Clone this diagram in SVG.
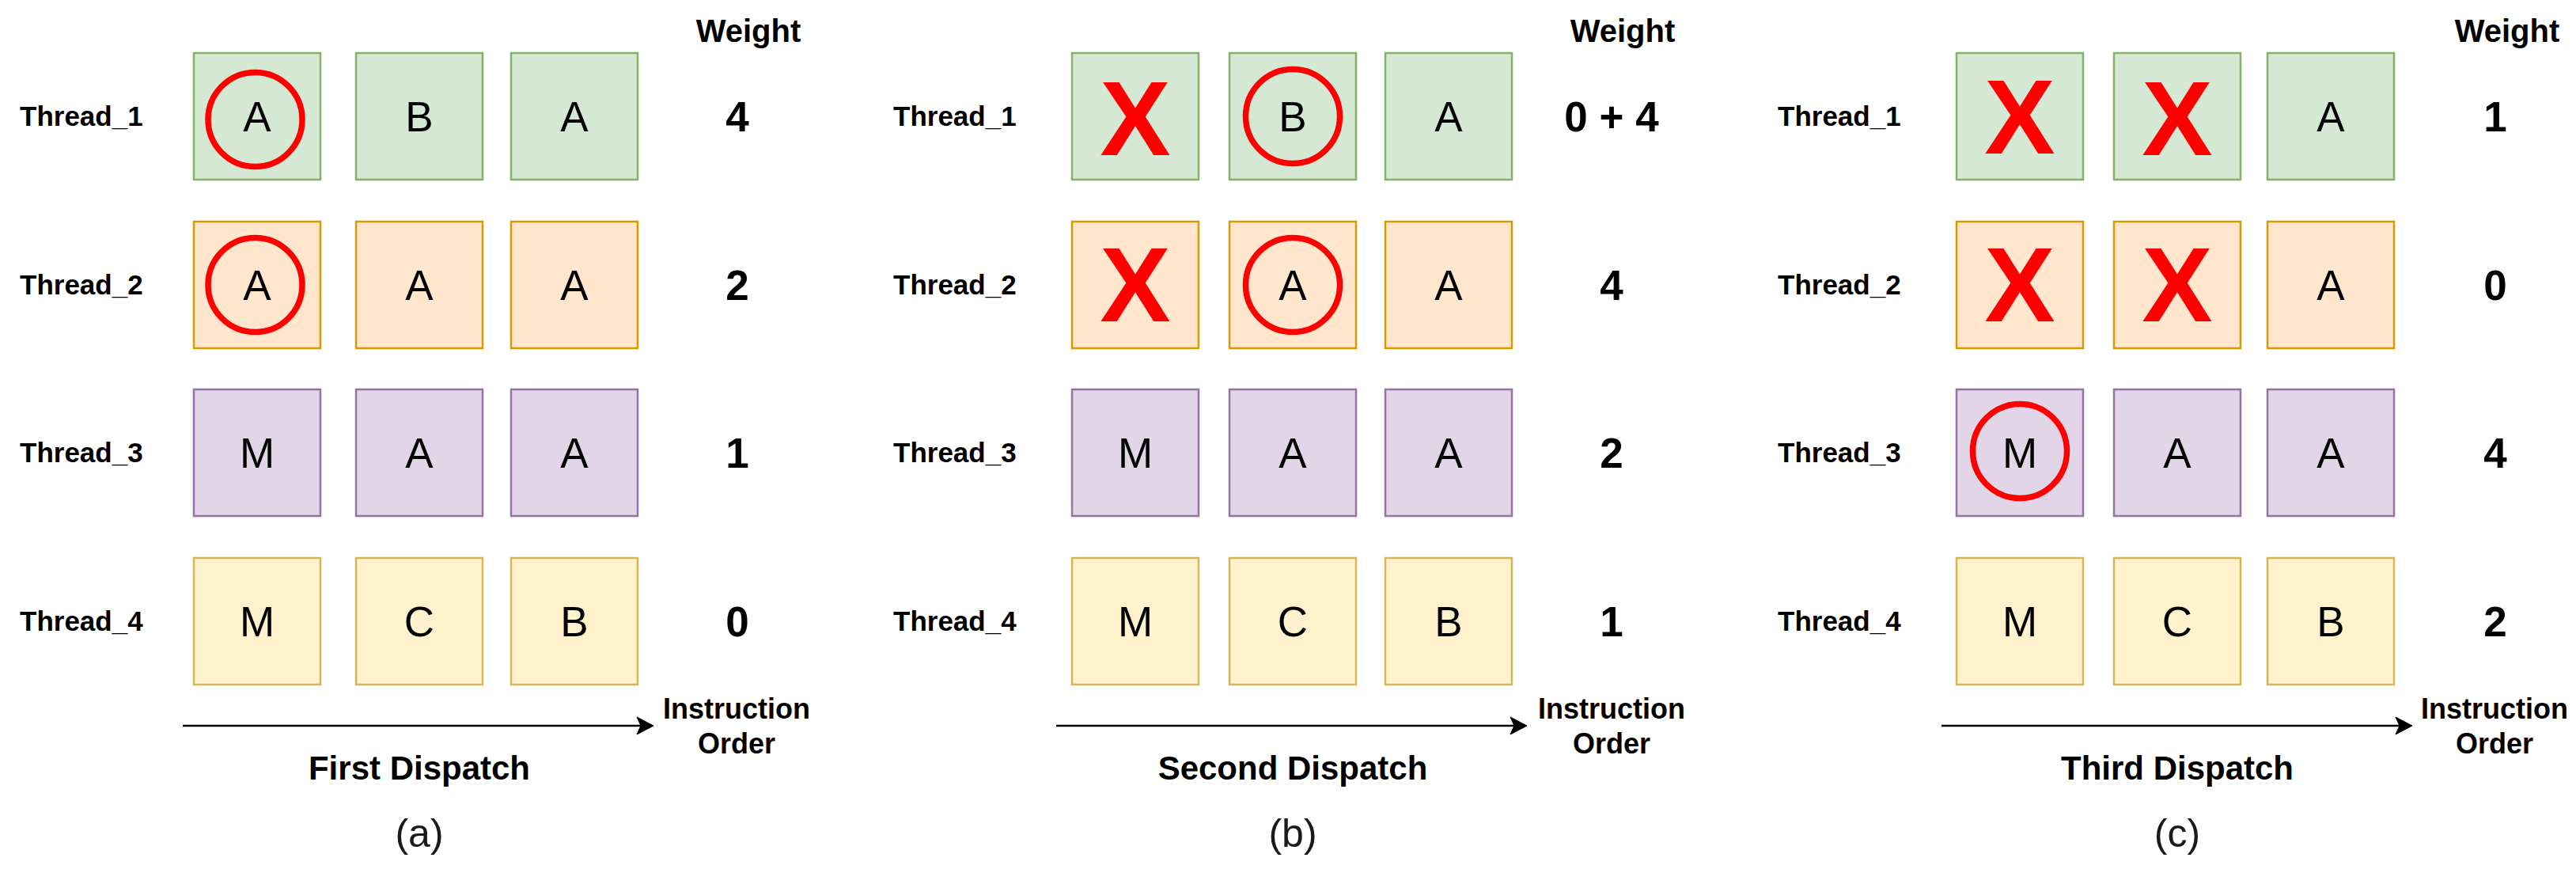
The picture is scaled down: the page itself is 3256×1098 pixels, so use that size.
<svg xmlns="http://www.w3.org/2000/svg" width="3256" height="1098" viewBox="0 0 3256 1098">
<style>
text{font-family:"Liberation Sans",Arial,sans-serif;fill:#000}
.g{fill:#d5e8d4;stroke:#82b366;stroke-width:2.5}
.o{fill:#ffe6cc;stroke:#d79b00;stroke-width:2.5}
.p{fill:#e1d5e7;stroke:#9673a6;stroke-width:2.5}
.y{fill:#fff2cc;stroke:#d6b656;stroke-width:2.5}
.l{font-size:53px;text-anchor:middle}
.th{font-size:35px;font-weight:bold}
.w{font-size:53px;font-weight:bold;text-anchor:middle}
.wh{font-size:40px;font-weight:bold;text-anchor:middle}
.io{font-size:36px;font-weight:bold;text-anchor:middle}
.dp{font-size:42px;font-weight:bold;text-anchor:middle}
.cap{font-size:50px;text-anchor:middle;fill:#1a1a1a}
.x{font-size:134px;font-weight:bold;text-anchor:middle;fill:#ff0000}
.c{fill:none;stroke:#ff0000;stroke-width:7.5}
.ax{stroke:#000;stroke-width:2.5;fill:none}
.ah{fill:#000;stroke:#000;stroke-width:1}
</style>

<!-- Panel (a) -->
<g id="panel-a">
  <g id="a-header"><text class="wh" x="946" y="53">Weight</text></g>
  <g id="a-thread1">
    <text class="th" x="25" y="159">Thread_1</text>
    <rect class="g" x="245" y="67" width="160" height="160"/><text class="l" x="325" y="166">A</text>
    <rect class="g" x="450" y="67" width="160" height="160"/><text class="l" x="530" y="166">B</text>
    <rect class="g" x="646" y="67" width="160" height="160"/><text class="l" x="726" y="166">A</text>
    <circle class="c" cx="322.5" cy="151" r="59.5"/>
    <text class="w" x="932" y="166">4</text>
  </g>
  <g id="a-thread2">
    <text class="th" x="25" y="372">Thread_2</text>
    <rect class="o" x="245" y="280" width="160" height="160"/><text class="l" x="325" y="379">A</text>
    <rect class="o" x="450" y="280" width="160" height="160"/><text class="l" x="530" y="379">A</text>
    <rect class="o" x="646" y="280" width="160" height="160"/><text class="l" x="726" y="379">A</text>
    <circle class="c" cx="322.5" cy="360" r="59.5"/>
    <text class="w" x="932" y="379">2</text>
  </g>
  <g id="a-thread3">
    <text class="th" x="25" y="584">Thread_3</text>
    <rect class="p" x="245" y="492" width="160" height="160"/><text class="l" x="325" y="591">M</text>
    <rect class="p" x="450" y="492" width="160" height="160"/><text class="l" x="530" y="591">A</text>
    <rect class="p" x="646" y="492" width="160" height="160"/><text class="l" x="726" y="591">A</text>
    <text class="w" x="932" y="591">1</text>
  </g>
  <g id="a-thread4">
    <text class="th" x="25" y="797">Thread_4</text>
    <rect class="y" x="245" y="705" width="160" height="160"/><text class="l" x="325" y="804">M</text>
    <rect class="y" x="450" y="705" width="160" height="160"/><text class="l" x="530" y="804">C</text>
    <rect class="y" x="646" y="705" width="160" height="160"/><text class="l" x="726" y="804">B</text>
    <text class="w" x="932" y="804">0</text>
  </g>
  <g id="a-labels">
    <text class="io" x="931" y="908">Instruction</text>
    <text class="io" x="931" y="952">Order</text>
    <text class="dp" x="530" y="985">First Dispatch</text>
    <text class="cap" x="530" y="1070">(a)</text>
  </g>
</g>

<!-- Panel (b) -->
<g id="panel-b">
  <g id="b-header"><text class="wh" x="2051" y="53">Weight</text></g>
  <g id="b-thread1">
    <text class="th" x="1129" y="159">Thread_1</text>
    <rect class="g" x="1355" y="67" width="160" height="160"/><text class="x" x="1435" y="196">X</text>
    <rect class="g" x="1554" y="67" width="160" height="160"/><text class="l" x="1634" y="166">B</text>
    <rect class="g" x="1751" y="67" width="160" height="160"/><text class="l" x="1831" y="166">A</text>
    <circle class="c" cx="1634" cy="147" r="59.5"/>
    <text class="w" x="2037" y="166">0 + 4</text>
  </g>
  <g id="b-thread2">
    <text class="th" x="1129" y="372">Thread_2</text>
    <rect class="o" x="1355" y="280" width="160" height="160"/><text class="x" x="1435" y="406">X</text>
    <rect class="o" x="1554" y="280" width="160" height="160"/><text class="l" x="1634" y="379">A</text>
    <rect class="o" x="1751" y="280" width="160" height="160"/><text class="l" x="1831" y="379">A</text>
    <circle class="c" cx="1634" cy="360" r="59.5"/>
    <text class="w" x="2037" y="379">4</text>
  </g>
  <g id="b-thread3">
    <text class="th" x="1129" y="584">Thread_3</text>
    <rect class="p" x="1355" y="492" width="160" height="160"/><text class="l" x="1435" y="591">M</text>
    <rect class="p" x="1554" y="492" width="160" height="160"/><text class="l" x="1634" y="591">A</text>
    <rect class="p" x="1751" y="492" width="160" height="160"/><text class="l" x="1831" y="591">A</text>
    <text class="w" x="2037" y="591">2</text>
  </g>
  <g id="b-thread4">
    <text class="th" x="1129" y="797">Thread_4</text>
    <rect class="y" x="1355" y="705" width="160" height="160"/><text class="l" x="1435" y="804">M</text>
    <rect class="y" x="1554" y="705" width="160" height="160"/><text class="l" x="1634" y="804">C</text>
    <rect class="y" x="1751" y="705" width="160" height="160"/><text class="l" x="1831" y="804">B</text>
    <text class="w" x="2037" y="804">1</text>
  </g>
  <g id="b-labels">
    <text class="io" x="2037" y="908">Instruction</text>
    <text class="io" x="2037" y="952">Order</text>
    <text class="dp" x="1634" y="985">Second Dispatch</text>
    <text class="cap" x="1634" y="1070">(b)</text>
  </g>
</g>

<!-- Panel (c) -->
<g id="panel-c">
  <g id="c-header"><text class="wh" x="3169" y="53">Weight</text></g>
  <g id="c-thread1">
    <text class="th" x="2247" y="159">Thread_1</text>
    <rect class="g" x="2473" y="67" width="160" height="160"/><text class="x" x="2553" y="194">X</text>
    <rect class="g" x="2672" y="67" width="160" height="160"/><text class="x" x="2752" y="196">X</text>
    <rect class="g" x="2866" y="67" width="160" height="160"/><text class="l" x="2946" y="166">A</text>
    <text class="w" x="3154" y="166">1</text>
  </g>
  <g id="c-thread2">
    <text class="th" x="2247" y="372">Thread_2</text>
    <rect class="o" x="2473" y="280" width="160" height="160"/><text class="x" x="2553" y="406">X</text>
    <rect class="o" x="2672" y="280" width="160" height="160"/><text class="x" x="2752" y="406">X</text>
    <rect class="o" x="2866" y="280" width="160" height="160"/><text class="l" x="2946" y="379">A</text>
    <text class="w" x="3154" y="379">0</text>
  </g>
  <g id="c-thread3">
    <text class="th" x="2247" y="584">Thread_3</text>
    <rect class="p" x="2473" y="492" width="160" height="160"/><text class="l" x="2553" y="591">M</text>
    <rect class="p" x="2672" y="492" width="160" height="160"/><text class="l" x="2752" y="591">A</text>
    <rect class="p" x="2866" y="492" width="160" height="160"/><text class="l" x="2946" y="591">A</text>
    <circle class="c" cx="2553" cy="570" r="59.5"/>
    <text class="w" x="3154" y="591">4</text>
  </g>
  <g id="c-thread4">
    <text class="th" x="2247" y="797">Thread_4</text>
    <rect class="y" x="2473" y="705" width="160" height="160"/><text class="l" x="2553" y="804">M</text>
    <rect class="y" x="2672" y="705" width="160" height="160"/><text class="l" x="2752" y="804">C</text>
    <rect class="y" x="2866" y="705" width="160" height="160"/><text class="l" x="2946" y="804">B</text>
    <text class="w" x="3154" y="804">2</text>
  </g>
  <g id="c-labels">
    <text class="io" x="3153" y="908">Instruction</text>
    <text class="io" x="3153" y="952">Order</text>
    <text class="dp" x="2752" y="985">Third Dispatch</text>
    <text class="cap" x="2752" y="1070">(c)</text>
  </g>
</g>

<!-- Connectors -->
<g id="connectors">
  <line class="ax" x1="231" y1="917" x2="812" y2="917"/>
  <path class="ah" d="M826,917 L805,906 L810,917 L805,928 Z"/>
  <line class="ax" x1="1335" y1="917" x2="1916" y2="917"/>
  <path class="ah" d="M1930,917 L1909,906 L1914,917 L1909,928 Z"/>
  <line class="ax" x1="2454" y1="917" x2="3035" y2="917"/>
  <path class="ah" d="M3049,917 L3028,906 L3033,917 L3028,928 Z"/>
</g>
</svg>
